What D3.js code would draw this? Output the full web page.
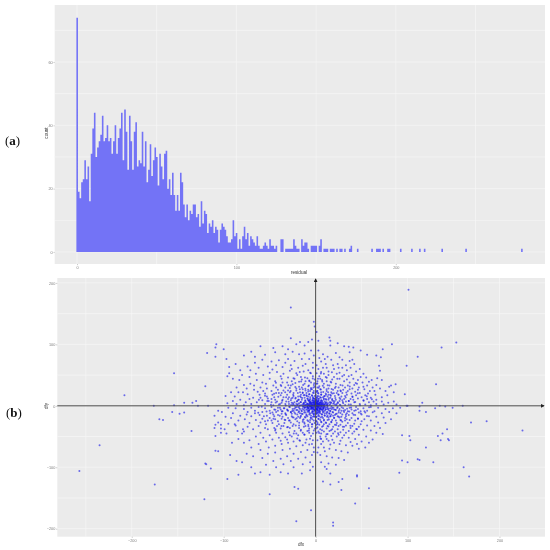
<!DOCTYPE html>
<html><head><meta charset="utf-8">
<script src="https://cdn.jsdelivr.net/npm/d3@7/dist/d3.min.js"></script>
<style>html,body{margin:0;background:#fff}svg{display:block;filter:blur(.3px)}</style>
</head><body><svg id="c" width="550" height="550"></svg>
<script>
// Histogram of residual: counts for bins 0..130
const binCounts=[74,19,17,22,23,29,23,27,16,31,39,44,30,33,35,37,43,35,36,40,35,36,31,35,40,31,36,39,44,29,45,38,26,43,35,26,38,41,27,29,28,38,27,35,22,26,34,24,29,33,30,21,31,27,23,31,32,20,23,18,25,18,13,18,13,25,22,15,11,15,10,13,12,15,15,11,12,8,16,9,13,12,6,9,8,10,6,8,7,3,7,9,8,7,5,3,3,4,10,5,6,1,4,1,5,8,4,6,2,5,4,3,2,5,2,1,1,2,3,2,1,4,2,2,1,2,0,0,4,4,0];
const tailBins=[131,132,133,134,135,136,137,138,139,141,142,143,144,145,147,148,149,150,152,153,155,156,157,159,160,161,163,165,166,168,171,172,176,185,188,189,190,192,195,196,203,210,215,218,229,244,279];
const tailCounts=[1,1,1,1,1,4,2,1,1,4,2,3,3,1,2,2,2,2,2,4,1,1,1,1,1,1,1,1,1,1,1,2,1,1,1,1,1,1,1,1,1,1,1,1,1,1,1];
const histXTicks=[0,100,200], histYTicks=[0,20,40,60];
const scatterTicksX=[-200,-100,0,100,200], scatterTicksY=[-200,-100,0,100,200];
// Scatter of (dfx, dfy)
const outliers=[[-257,-106],[-235,-64],[-208,17],[-175,-128],[-154,53],[-121,-152],[-176,0],[-170,-22],[-166,-23],[-156,-10],[-154,1],[-148,-13],[-143,-11],[-143,5],[-135,-41],[-134,5],[-130,8],[-128,0],[-120,32],[-117,0],[-118,86],[-108,100],[-109,95],[-109,80],[-100,92],[-97,76],[-87,68],[-94,63],[-96,48],[-94,53],[-120,-94],[-119,-95],[-114,-102],[-109,-73],[-106,-74],[-96,-119],[-86,-90],[-84,-112],[-93,-80],[-91,-60],[-109,-49],[-110,-36],[-109,-31],[-106,-27],[-103,-37],[-103,-31],[-99,-38],[-97,-45],[-103,-44],[-95,-29],[-87,-32],[-85,-41],[-79,-38],[-78,-42],
[101,189],[-27,160],[-2,137],[-1,129],[1,120],[-27,110],[153,103],[137,95],[83,100],[111,80],[99,65],[131,35],[87,35],[82,33],[97,19],[56,83],[66,82],[71,79],[73,92],[69,65],[70,57],[116,5],[99,0],[100,0],[135,0],[141,-1],[149,-3],[160,0],[113,-1],[113,-8],[120,-10],[130,-4],[169,-27],[186,-25],[225,-40],[143,-38],[138,-45],[133,-49],[136,-56],[144,-54],[145,-56],[94,-48],[102,-49],[103,-56],[120,-68],[94,-89],[100,-92],[111,-87],[113,-88],[128,-92],[161,-100],[167,-115],[91,-109],[58,-134],[43,-159],[45,-113],[45,-115],[28,-137],[19,-190],[19,-195],[-21,-188],[-5,-170],[-23,-132],[-19,-135],[16,-128],[8,-123],[25,-124],[29,-119],[-50,-144],[12,-103],[-6,-105],[-3,-99],[16,-110],[10,-99]];
const upperLeft=[[-4,108],[-8,104],[-12,98],[-17,104],[-21,100],[-30,92],[-36,97],[-46,94],[-60,97],[-70,88],[-78,82],[-66,80],[-55,83],[-44,87],[-33,84],[-25,88],[-12,85],[-5,90],[-7,76],[-15,76],[-23,73],[-30,76],[-40,74],[-48,72],[-58,75],[-66,70],[-74,64],[-82,58],[-90,44],[-83,42],[-80,50],[-71,58],[-62,62],[-52,64],[-43,66],[-36,63],[-27,66],[-19,62],[-11,68],[-3,62],[-6,54],[-13,56],[-21,53],[-28,57],[-35,52],[-42,55],[-50,54],[-57,50],[-65,52],[-72,47],[-78,34],[-86,30],[-92,22],[-98,16],[-88,15],[-79,22],[-71,36],[-64,42],[-58,38],[-50,44],[-44,40],[-37,44],[-30,46],[-23,44],[-16,47],[-9,45],[-3,48],[-5,38],[-12,36],[-18,39],[-25,35],[-31,38],[-38,34],[-46,33],[-53,28],[-60,30],[-67,26],[-74,19],[-82,10],[-90,8],[-96,4],[-86,3],[-76,6],[-68,13],[-61,18],[-55,20],[-48,24],[-41,26],[-35,25],[-28,29],[-21,28],[-15,30],[-8,32],[-2,34],[-4,27],[-11,25],[-17,22],[-24,21],[-31,18],[-38,17],[-45,14],[-52,12],[-58,9],[-64,6],[-70,3],[-78,1],[-55,3],[-48,6],[-42,7],[-36,10],[-30,11],[-25,13],[-19,15],[-13,17],[-7,19],[-2,21],[-3,14],[-9,12],[-15,10],[-20,8],[-26,5],[-33,3],[-40,2],[-46,1],[-32,7],[-24,2],[-18,4],[-12,6],[-7,8],[-3,9],[-5,4],[-9,3],[-14,2],[-2,5],[-1,2],[-4,1],[-7,1],[-11,1],[-17,1],[-21,3],[-27,9],[-35,14],[-22,12],[-28,22],[-14,21],[-6,24],[-10,17],[-33,30],[-40,21],[-47,18],[-26,40],[-18,31],[-11,40],[-36,38],[-43,30],[-54,36],[-63,23],[-20,50],[-14,65],[-26,60],[-8,58],[-3,70],[-2,82],[-38,48],[-47,59],[-33,70],[-18,84],[-53,15],[-60,13],[-72,11],[-48,11],[-67,33],[-75,28],[-84,22],[-16,14],[-12,13],[-8,15],[-6,11],[-4,17],[-2,12],[-1,7],[-3,6],[-6,6],[-8,9],[-11,8],[-13,4],[-16,6],[-19,10],[-23,6],[-29,14],[-24,16],[-16,18],[-10,21],[-5,29],[-8,26],[-14,27],[-21,25],[-27,33],[-1,16],[-2,24],[-1,31],[-7,41],[-1,43],[-15,43],[-22,37],[-30,25],[-37,21],[-43,21],[-57,24],[-29,3],[-37,5],[-44,10],[-51,8],[-20,1],[-25,1]];
const upperRight=[[3,106],[15,111],[16,106],[16,98],[24,102],[31,97],[36,96],[41,95],[3,90],[8,84],[13,80],[22,86],[26,79],[29,75],[37,87],[37,73],[42,68],[49,90],[6,72],[11,68],[17,75],[24,68],[29,62],[34,58],[38,62],[44,56],[48,60],[52,52],[55,46],[58,39],[61,42],[67,45],[72,42],[3,60],[8,62],[14,56],[20,60],[26,54],[31,50],[36,48],[41,44],[46,42],[51,38],[56,33],[62,30],[66,34],[70,28],[76,24],[80,31],[85,22],[78,17],[72,14],[65,18],[59,24],[53,27],[47,30],[42,34],[37,38],[31,40],[26,44],[20,47],[14,50],[9,52],[4,48],[2,40],[7,42],[12,40],[17,38],[22,36],[27,34],[32,30],[37,27],[43,23],[48,21],[54,17],[60,13],[66,10],[72,7],[79,5],[85,7],[88,2],[74,2],[66,3],[58,6],[52,9],[46,12],[40,15],[34,18],[29,21],[24,24],[19,26],[14,28],[9,30],[4,32],[2,24],[6,22],[11,20],[16,18],[21,16],[26,13],[31,11],[36,8],[42,6],[48,3],[54,2],[60,1],[36,2],[30,4],[24,6],[19,8],[14,10],[9,12],[5,14],[2,16],[3,8],[7,6],[11,4],[16,3],[21,2],[27,1],[2,4],[4,2],[6,1],[9,2],[13,1],[1,10],[3,11],[6,9],[8,14],[11,11],[13,15],[16,13],[18,11],[22,10],[25,18],[28,15],[32,16],[35,24],[39,20],[44,17],[50,14],[56,11],[63,7],[12,24],[17,22],[21,29],[5,27],[9,36],[15,33],[25,30],[30,26],[35,33],[40,28],[46,26],[52,31],[57,20],[64,24],[5,44],[11,47],[18,43],[23,52],[29,48],[34,43],[39,50],[45,36],[49,47],[6,55],[12,62],[19,66],[25,62],[33,66],[40,75],[10,76],[4,78],[1,66],[1,53],[1,36],[2,30],[3,20],[1,22],[1,14],[2,7],[1,5],[3,3],[5,5],[7,3],[10,7],[12,6],[15,6],[17,5],[20,5],[23,3],[26,8],[29,9],[33,7],[38,11],[41,10],[6,18],[10,16],[14,18],[18,20],[23,21],[27,25]];
const lowerLeft=[[-4,-3],[-8,-4],[-12,-3],[-17,-5],[-22,-3],[-28,-2],[-34,-4],[-41,-3],[-48,-2],[-55,-4],[-62,-2],[-70,-3],[-78,-5],[-87,-4],[-95,-3],[-102,-10],[-110,-16],[-106,-8],[-90,-12],[-82,-16],[-74,-10],[-66,-8],[-58,-10],[-50,-8],[-43,-10],[-36,-9],[-30,-8],[-24,-8],[-18,-9],[-12,-8],[-7,-8],[-3,-9],[-2,-14],[-6,-13],[-10,-14],[-15,-13],[-20,-14],[-26,-13],[-32,-15],[-39,-16],[-46,-14],[-53,-16],[-61,-15],[-70,-17],[-77,-22],[-84,-24],[-92,-20],[-98,-18],[-72,-28],[-65,-23],[-58,-21],[-50,-20],[-44,-22],[-37,-21],[-30,-20],[-24,-19],[-17,-20],[-11,-19],[-5,-20],[-2,-24],[-8,-25],[-14,-26],[-20,-25],[-27,-27],[-34,-28],[-40,-30],[-47,-28],[-54,-30],[-62,-33],[-68,-38],[-74,-34],[-60,-44],[-52,-38],[-45,-36],[-38,-37],[-31,-35],[-25,-33],[-18,-32],[-11,-33],[-4,-34],[-2,-40],[-9,-41],[-16,-39],[-23,-41],[-29,-43],[-36,-45],[-43,-44],[-50,-48],[-57,-52],[-65,-50],[-72,-56],[-78,-60],[-84,-54],[-70,-68],[-62,-62],[-54,-58],[-47,-55],[-40,-52],[-33,-51],[-26,-50],[-19,-48],[-12,-47],[-5,-49],[-3,-56],[-10,-55],[-17,-57],[-24,-58],[-30,-60],[-37,-62],[-44,-65],[-51,-68],[-60,-72],[-68,-82],[-75,-78],[-80,-92],[-58,-85],[-52,-78],[-44,-76],[-36,-72],[-28,-70],[-21,-66],[-14,-64],[-7,-63],[-2,-68],[-9,-72],[-16,-75],[-24,-78],[-31,-82],[-38,-86],[-46,-90],[-54,-96],[-60,-108],[-70,-100],[-66,-110],[-43,-100],[-35,-95],[-27,-90],[-19,-86],[-11,-84],[-4,-80],[-6,-92],[-14,-95],[-24,-100],[-30,-110],[-38,-108],[-50,-112],[-15,-110],[-1,-28],[-1,-18],[-1,-7],[-3,-5],[-5,-2],[-9,-2],[-14,-1],[-19,-2],[-25,-5],[-31,-6],[-38,-6],[-45,-6],[-3,-12],[-5,-16],[-7,-11],[-9,-7],[-11,-11],[-13,-6],[-15,-9],[-17,-12],[-21,-7],[-23,-11],[-27,-10],[-33,-12],[-37,-13],[-41,-8],[-47,-11],[-3,-18],[-6,-23],[-9,-17],[-13,-22],[-16,-16],[-19,-18],[-22,-22],[-26,-17],[-29,-24],[-33,-23],[-36,-18],[-41,-25],[-48,-24],[-55,-25],[-4,-30],[-8,-31],[-12,-29],[-18,-36],[-24,-30],[-28,-36],[-35,-33],[-42,-33],[-7,-37],[-14,-44],[-21,-45],[-31,-55],[-38,-57],[-7,-44],[-20,-53],[-4,-62],[-11,-60],[-80,-45],[-88,-30],[-66,-12],[-75,-14],[-60,-27],[-52,-24],[-45,-17],[-2,-75],[-28,-48],[-44,-40],[-55,-36]];
const lowerRight=[[2,-2],[5,-4],[9,-3],[13,-5],[18,-3],[24,-2],[30,-4],[37,-3],[44,-2],[52,-4],[60,-2],[68,-3],[76,-5],[84,-4],[92,-3],[88,-12],[80,-10],[72,-12],[64,-9],[56,-8],[49,-9],[42,-8],[35,-9],[28,-8],[22,-7],[16,-9],[10,-8],[5,-9],[2,-8],[3,-14],[7,-14],[12,-13],[17,-14],[23,-13],[29,-14],[36,-15],[43,-15],[50,-14],[58,-17],[66,-18],[74,-19],[82,-22],[76,-28],[68,-27],[60,-24],[53,-22],[46,-21],[39,-20],[32,-20],[26,-19],[20,-20],[14,-19],[8,-20],[3,-21],[2,-27],[6,-26],[11,-27],[17,-26],[23,-28],[29,-26],[35,-28],[42,-29],[49,-30],[56,-32],[64,-33],[70,-36],[73,-46],[66,-44],[60,-40],[52,-39],[45,-38],[38,-36],[31,-34],[25,-33],[19,-34],[13,-33],[7,-34],[2,-35],[3,-42],[9,-42],[15,-41],[21,-42],[27,-43],[33,-44],[40,-45],[47,-47],[55,-50],[62,-55],[58,-60],[50,-58],[43,-54],[36,-52],[29,-52],[23,-50],[17,-49],[11,-50],[5,-50],[2,-56],[8,-58],[14,-57],[20,-60],[26,-62],[33,-64],[40,-65],[47,-70],[54,-68],[35,-76],[28,-74],[22,-72],[15,-70],[9,-68],[3,-68],[5,-80],[12,-82],[18,-84],[25,-85],[31,-88],[22,-96],[14,-94],[6,-92],[1,-12],[1,-5],[1,-18],[1,-25],[1,-31],[1,-44],[2,-5],[4,-7],[6,-6],[8,-5],[11,-6],[14,-7],[16,-4],[20,-6],[26,-5],[32,-7],[39,-6],[46,-5],[3,-11],[5,-12],[8,-11],[10,-12],[13,-10],[15,-12],[19,-11],[21,-15],[25,-11],[31,-10],[34,-12],[40,-12],[47,-11],[54,-11],[4,-17],[7,-18],[10,-16],[13,-16],[16,-17],[19,-16],[24,-17],[28,-18],[33,-17],[37,-23],[43,-24],[50,-25],[5,-23],[9,-24],[13,-23],[18,-23],[22,-24],[27,-23],[32,-24],[4,-31],[9,-30],[15,-30],[21,-31],[27,-31],[33,-32],[40,-33],[47,-34],[5,-38],[12,-37],[18,-38],[24,-38],[30,-39],[36,-41],[42,-42],[6,-45],[13,-46],[19,-45],[25,-47],[31,-48],[6,-54],[12,-54],[27,-57],[38,-59],[45,-62],[16,-63],[6,-62],[10,-74],[2,-76]];
const core=[[-1.5,-.5],[.5,1.5],[1.2,-1.3],[-.7,2.4],[2.3,.6],[-2.6,-1.8],[.3,-2.7],[3.1,2.2],[-3.4,.8],[1.8,3.7],[-1.2,4.1],[4.2,-.9],[-4.3,-2.5],[.9,-4.4],[2.7,-3.3],[-2.2,-4.6],[5.1,1.3],[-5.2,2.1],[3.6,4.8],[-3.1,5.5],[.4,6.2],[6.3,-2.4],[-6.1,-.6],[1.7,-6.5],[-1.1,-7.2],[4.6,-5.3],[-4.7,-5.6],[6.8,3.4],[-6.6,4.3],[2.4,7.6],[-2.3,8.1],[7.9,.4],[-8.1,.9],[8.3,-3.7],[-7.7,-4.2],[5.4,6.6],[-5.3,7.2],[3.3,-8.2],[-3.6,-8.7],[7.1,-6.3],[-7.2,-7.1],[.8,9.2],[9.4,2.6],[-9.6,2.4],[9.8,-1.2],[-9.2,-2.1],[1.3,-10.1],[-.9,10.7],[6.2,8.8],[-6.4,9.3],[10.7,5.1],[-10.6,5.4],[10.9,-5.4],[-10.2,-5.9],[4.1,-10.8],[-4.4,-11.2],[3.7,11.4],[-3.2,12.1],[12.2,.8],[-12.3,.3],[12.6,-2.7],[-11.8,-3.2],[8.4,-9.3],[-8.7,-9.6],[8.9,10.2],[-8.6,11.1],[13.4,3.8],[-13.1,4.2],[1.6,13.7],[.6,-13.2],[-2.1,-14.3],[14.2,-4.3],[-14.4,-4.9],[5.8,13.3],[-5.9,13.9],[6.6,-13.8],[-6.9,-14.1],[15.1,1.4],[-15.3,1.1],[11.6,9.7],[-11.4,9.2],[12.1,-10.3],[-12.4,-10.7],[15.7,-8.2],[-15.5,-7.6],[3.4,15.6],[-3.8,16.2],[2.9,-16.1],[-1.8,-16.9],[16.4,5.6],[-16.3,6.4],[9.2,15.4],[-9.7,15.8],[9.7,-15.3],[-10.1,-15.6],[17.2,-.8],[-17.5,-.4],[17.6,-5.7],[-17.8,-3.6],[14.3,12.4],[-14.6,12.7],[14.8,-12.9],[-14.2,-13.3],[.2,17.8],[.7,-18.2],[6.1,18.3],[-6.8,18.7],[5.6,-18.9],[-5.4,-19.3],[19.1,3.2],[-19.3,2.7],[19.4,-3.1],[-19.7,-6.8],[17.9,9.6],[-18.2,9.8],[18.4,-10.1],[-18.6,-10.6],[11.3,18.2],[-12.1,17.6],[12.4,-17.9],[-11.7,-18.4],[20.6,7.4],[-20.4,6.9],[21.3,-6.6],[-21.1,-1.8],[2.6,20.9],[-2.9,21.4],[3.2,-21.3],[-3.7,-21.7],[16.6,16.4],[-16.9,15.7],[16.2,-17.1],[-16.4,-17.7],[22.3,.9],[-22.6,.2],[23.4,-3.4],[-23.2,-4.7],[8.3,22.6],[-8.1,23.1],[9.1,-22.7],[-8.9,-23.3],[21.4,12.8],[-21.7,13.1],[21.9,-13.4],[-22.1,-12.8],[24.3,4.7],[-24.6,4.1],[1.4,24.2],[.3,-24.7],[25.2,-7.9],[-25.4,-8.4],[13.6,22.1],[-14.1,21.8],[14.4,-22.3],[-13.9,-22.9],[26.3,1.6],[-26.7,1.4],[5.7,26.4],[-5.1,26.9],[6.3,-26.6],[-6.1,-26.9],[26.8,10.9],[-26.4,11.7],[27.1,-11.6],[-26.9,-10.4],[19.8,20.3],[-19.4,20.9],[20.2,-19.6],[-20.7,-20.1],[28.4,-2.3],[-28.8,-1.7],[11.9,27.1],[-11.2,27.7],[11.4,-27.8],[-12.3,-27.3],[29.6,6.2],[-29.3,6.8],[3.3,29.4],[-2.4,29.8],[2.2,-29.7],[-3.6,-30.1],[30.4,-8.1],[-30.6,-7.3],[24.7,18.6],[-24.4,18.1],[24.9,-17.9],[-25.1,-18.6],[17.4,27.2],[-17.2,26.8],[17.1,-26.7],[-17.9,-27.4],[32.1,1.2],[-32.4,.6],[32.7,13.4],[-32.1,13.9],[32.9,-14.2],[-32.6,-13.6],[7.8,32.6],[-7.3,33.1],[8.1,-32.9],[-7.9,-33.4],[34.2,-4.6],[-34.6,-4.1],[27.4,23.6],[-27.1,24.3],[27.7,-24.1],[-28.2,-23.7],[13.1,33.4],[-13.6,33.8],[13.9,-33.7],[-12.8,-34.2],[36.1,7.7],[-36.4,8.3],[36.6,-9.4],[-36.8,-8.9],[1.9,36.3],[-1.6,36.9],[1.1,-36.7],[-.8,-37.2],[21.8,31.2],[-22.1,30.6],[22.4,-31.4],[-21.6,-31.9],[38.3,2.3],[-38.7,2.9],[38.6,-2.6],[-38.9,-3.2],[33.4,21.7],[-33.1,22.2],[33.8,-21.9],[-33.7,-22.6],[7.2,39.4],[-6.7,39.8],[6.9,-39.6],[-7.4,-40.1],[40.2,14.3],[-40.6,14.8],[41.3,-14.6],[-40.9,-15.1],[16.3,39.2],[-15.8,39.6],[16.7,-39.9],[-16.2,-40.4],[43.1,6.2],[-43.4,5.4],[43.7,-7.1],[-43.8,-6.3],[29.3,33.2],[-29.7,33.6],[29.6,-33.9],[-30.1,-34.3],[2.6,43.9],[-3.1,44.6],[3.8,-44.2],[-2.9,-44.9],[45.8,20.4],[-45.2,19.8],[46.1,-20.7],[-45.9,-21.2],[12.1,45.7],[-11.6,46.2],[11.8,-46.4],[-12.4,-46.8],[48.3,1.1],[-48.6,1.7],[49.1,-12.6],[-49.4,-12.1],[37.1,31.6],[-37.4,32.2],[37.8,-32.3],[-37.2,-32.9],[23.6,44.1],[-24.1,44.7],[24.4,-44.6],[-23.8,-45.2],[52.2,8.3],[-52.6,7.7],[53.1,-8.8],[-53.4,-9.3],[5.7,52.4],[-5.2,52.9],[5.4,-53.1],[-6.1,-53.4],[55.6,15.7],[-55.1,16.3],[55.9,-16.4],[-56.3,-16.9],[17.7,54.6],[-17.3,55.1],[18.2,-55.4],[-17.6,-55.9],[58.1,-2.2],[-58.6,-1.4],[43.6,37.1],[-43.2,37.7],[44.1,-37.6],[-43.7,-38.2],[61.2,10.6],[-61.7,9.9],[62.1,-10.3],[-62.4,-11.1],[.9,-.4],[-.4,.7],[.2,-1.1],[-1.3,.4],[1.9,-.2],[-.2,1.8],[2.1,1.1],[-2.1,.9],[1.1,2.3],[-1.6,-2.2],[2.9,-1.7],[-2.9,1.9],[.1,3.2],[-.3,-3.4],[3.4,-.3],[-3.8,-.4],[2.2,2.9],[-2.4,3.3],[2.6,-2.1],[-3.2,-3.1],[4.4,1.2],[-4.6,1.3],[4.8,-2.4],[-5.1,-1.2],[.7,4.7],[-.6,5.1],[1.3,-5.2],[-.5,-5.6],[3.9,3.4],[-4.1,3.6],[3.8,-3.9],[-4.2,-3.9],[5.9,.1],[-5.8,.2],[5.6,2.9],[-6.2,2.9],[6.3,-.8],[-6.8,-1.6],[1.9,5.9],[-1.8,6.3],[2.1,-5.8],[-2.2,-6.2],[4.7,4.9],[-4.9,4.8],[4.9,-4.7],[-5.2,-4.4],[7.3,1.8],[-7.4,1.9],[7.6,-1.9],[-7.7,-2.3],[.6,7.8],[-.8,8.3],[.9,-8.2],[-.7,-8.8],[6.1,5.4],[-6.3,5.9],[6.2,-5.2],[-6.4,-5.7],[8.8,.7],[-8.9,-.3],[9.1,-.6],[3.4,8.6],[-3.7,9.1],[3.9,-9.1],[-3.2,-9.8],[8.2,4.4],[-8.4,3.7],[8.6,-4.8],[-8.9,-4.1],[10.4,1.7],[-10.7,1.2],[10.8,-2.8],[-10.9,-1.9],[1.2,11.3],[-1.7,11.7],[1.8,-11.6],[-1.3,-11.9],[7.4,7.9],[-7.6,8.2],[7.7,-8.1],[-7.8,-8.4],[12.3,2.7],[-12.6,2.3],[12.9,-1.1],[-13.2,-1.4]];
const allPoints=[...outliers,...upperLeft,...upperRight,...lowerLeft,...lowerRight,...core];

const svg=d3.select("#c");
const PANEL="#ebebeb",GRID="#f6f6f6",TICK="#7f7f7f",BAR="#7373f6";
const font="Liberation Sans, Arial, sans-serif";

// --- panel (a)
const hx=d3.scaleLinear().domain([-14,293.6]).range([54.7,545]);
const hy=d3.scaleLinear().domain([-3.8,78]).range([264,5]);
const a=svg.append("g");
a.append("rect").attr("x",hx.range()[0]).attr("y",hy.range()[1]).attr("width",hx.range()[1]-hx.range()[0]).attr("height",hy.range()[0]-hy.range()[1]).attr("fill",PANEL);
grid(a,hx,hy,[0,50,100,150,200,250],[0,10,20,30,40,50,60,70]);
const hist=new Map(binCounts.map((c,i)=>[i,c]));
tailBins.forEach((b,i)=>hist.set(b,tailCounts[i]));
const lastBin=d3.max(tailBins)+1;
const steps=d3.range(0,lastBin+1).map(b=>({b,c:hist.get(b)||0}));
a.append("path").datum(steps).attr("fill",BAR)
 .attr("d",d3.area().curve(d3.curveStepAfter).x(d=>hx(d.b-.4)).y0(hy(0)).y1(d=>hy(d.c)));
axes(a,hx,hy,histXTicks,histYTicks);
label(299,272.5,"residual",4.6);
label(47,133,"count",4.6,-90);

// --- panel (b)
const sx=d3.scaleLinear().domain([-281,249.5]).range([57.3,545]);
const sy=d3.scaleLinear().domain([-213,208]).range([536.7,278]);
const b=svg.append("g");
b.append("rect").attr("x",sx.range()[0]).attr("y",sy.range()[1]).attr("width",sx.range()[1]-sx.range()[0]).attr("height",sy.range()[0]-sy.range()[1]).attr("fill",PANEL);
grid(b,sx,sy,[-250,-200,-150,-100,-50,0,50,100,150,200],[-200,-150,-100,-50,0,50,100,150,200]);
b.append("g").selectAll("circle").data(allPoints).join("circle")
 .attr("cx",d=>sx(d[0])).attr("cy",d=>sy(d[1])).attr("r",1).attr("fill","#1010e8").attr("fill-opacity",.6);
const defs=svg.append("defs");
defs.append("marker").attr("id","ar").attr("viewBox","0 0 6 6").attr("refX",5).attr("refY",3).attr("markerWidth",4).attr("markerHeight",4).attr("orient","auto")
 .append("path").attr("d","M0,0L6,3L0,6Z").attr("fill","#222");
b.append("line").attr("x1",sx.range()[0]).attr("x2",sx.range()[1]-1).attr("y1",sy(0)).attr("y2",sy(0)).attr("stroke","#4a4a4a").attr("stroke-width",1).attr("marker-end","url(#ar)");
b.append("line").attr("x1",sx(0)).attr("x2",sx(0)).attr("y1",sy.range()[0]).attr("y2",sy.range()[1]+1).attr("stroke","#4a4a4a").attr("stroke-width",1).attr("marker-end","url(#ar)");
axes(b,sx,sy,scatterTicksX,scatterTicksY);
label(301,544.5,"dfx",4.6);
label(47,406,"dfy",4.6,-90);

// --- panel tags
tag(5,145,"a");
tag(6,417,"b");

function grid(g,x,y,xs,ys){
 g.append("g").selectAll("line").data(xs).join("line").attr("x1",x).attr("x2",x).attr("y1",y.range()[0]).attr("y2",y.range()[1]).attr("stroke",GRID).attr("stroke-width",.7);
 g.append("g").selectAll("line").data(ys).join("line").attr("y1",y).attr("y2",y).attr("x1",x.range()[0]).attr("x2",x.range()[1]).attr("stroke",GRID).attr("stroke-width",.7);
}
function axes(g,x,y,xt,yt){
 const gx=g.append("g").attr("transform",`translate(0,${y.range()[0]})`).call(d3.axisBottom(x).tickValues(xt).tickSize(1.2).tickPadding(1).tickFormat(d3.format("d")));
 const gy=g.append("g").attr("transform",`translate(${x.range()[0]},0)`).call(d3.axisLeft(y).tickValues(yt).tickSize(1.2).tickPadding(.8).tickFormat(d3.format("d")));
 [gx,gy].forEach(s=>{s.select(".domain").remove();
  s.selectAll("line").attr("stroke",TICK).attr("stroke-width",.4);
  s.selectAll("text").attr("fill",TICK).style("font-size","3.8px").style("font-family",font);});
}
function label(x,y,t,size,rot){
 const el=svg.append("text").attr("text-anchor","middle").attr("dominant-baseline","middle").attr("fill","#333").style("font-size",size+"px").style("font-family",font).text(t);
 el.attr("transform",`translate(${x},${y})`+(rot?` rotate(${rot})`:""));
}
function tag(x,y,letter){
 const t=svg.append("text").attr("x",x).attr("y",y).attr("fill","#111").style("font-family","Liberation Serif, serif").style("font-size","13px");
 t.append("tspan").text("(");
 t.append("tspan").attr("font-weight","bold").text(letter);
 t.append("tspan").text(")");
}
</script></body></html>
